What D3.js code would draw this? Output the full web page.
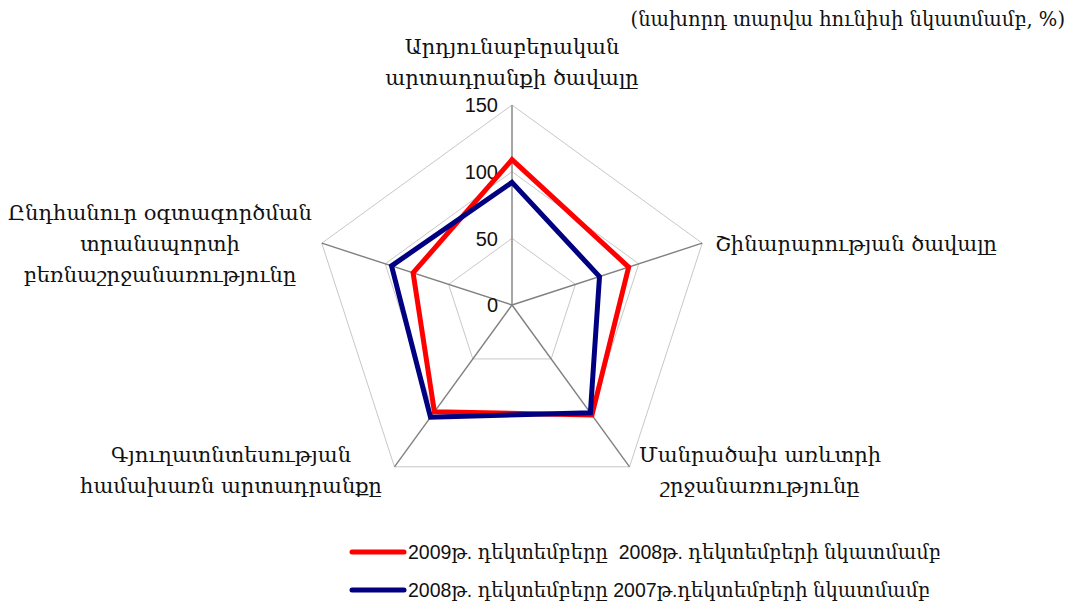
<!DOCTYPE html>
<meta charset="utf-8">
<script src="https://d3js.org/d3.v7.min.js"></script>
<style>
  body { margin: 0; background: #fff; }
</style>
<div id="chart"></div>
<script>

// axes of the radar, clockwise from the top
var categories = [
  ["Արդյունաբերական", "արտադրանքի ծավալը"],
  ["Շինարարության ծավալը"],
  ["Մանրածախ առևտրի", "շրջանառությունը"],
  ["Գյուղատնտեսության", "համախառն արտադրանքը"],
  ["Ընդհանուր օգտագործման", "տրանսպորտի", "բեռնաշրջանառությունը"]
];
var values2009 = [109, 92, 102, 99, 78];
var values2008 = [92, 69, 100, 104, 95];
var ticks = [0, 50, 100, 150];
var seriesNames = [
  "2009թ. դեկտեմբերը  2008թ. դեկտեմբերի նկատմամբ",
  "2008թ. դեկտեմբերը 2007թ.դեկտեմբերի նկատմամբ"
];
var note = "(նախորդ տարվա հունիսի նկատմամբ, %)";

var width = 1077, height = 609;
var cx = 512, cy = 305;

var svg = d3.select("#chart")
  .append("svg")
    .attr("width", width)
    .attr("height", height);

var g = svg.append("g")
    .attr("transform", "translate(" + cx + "," + cy + ")");

var r = d3.scaleLinear().domain([0, 150]).range([0, 200]);
var angle = function(i) { return i * 2 * Math.PI / categories.length; };
var px = function(i, v) { return r(v) * Math.sin(angle(i)); };
var py = function(i, v) { return -r(v) * Math.cos(angle(i)); };

// grid rings
ticks.slice(1).forEach(function(t) {
  g.append("path")
    .attr("d", d3.lineRadial()
      .angle(function(d, i) { return angle(i); })
      .radius(function() { return r(t); })
      .curve(d3.curveLinearClosed)(categories))
    .attr("fill", "none")
    .attr("stroke", "#c8c8c8")
    .attr("stroke-width", 1);
});

// spokes
g.selectAll(".spoke")
  .data(categories)
  .enter().append("line")
    .attr("class", "spoke")
    .attr("x1", 0).attr("y1", 0)
    .attr("x2", function(d, i) { return px(i, 150); })
    .attr("y2", function(d, i) { return py(i, 150); })
    .attr("stroke", "#808080")
    .attr("stroke-width", 1.4);

// tick labels
g.selectAll(".tick")
  .data(ticks)
  .enter().append("text")
    .attr("x", -14)
    .attr("y", function(d) { return -r(d); })
    .attr("dy", "0.36em")
    .attr("text-anchor", "end")
    .style("font-family", "Liberation Sans, Arial, sans-serif")
    .style("font-size", "20px")
    .attr("fill", "#111")
    .text(function(d) { return d; });

// series
var line = d3.lineRadial()
  .angle(function(d, i) { return angle(i); })
  .radius(function(d) { return r(d); })
  .curve(d3.curveLinearClosed);

[[values2009, "#ff0000"], [values2008, "#000080"]].forEach(function(s) {
  g.append("path")
    .attr("d", line(s[0]))
    .attr("fill", "none")
    .attr("stroke", s[1])
    .attr("stroke-width", 5)
    .attr("stroke-linejoin", "miter");
});

// category labels
var labelPos = [
  {x: 512, y: 47},
  {x: 856, y: 244},
  {x: 760, y: 455},
  {x: 231, y: 455},
  {x: 160, y: 213}
];
var labelFont = "DejaVu Serif, serif";
categories.forEach(function(lines, i) {
  var t = svg.append("text")
    .attr("text-anchor", "middle")
    .style("font-family", labelFont)
    .style("font-size", "21px")
    .attr("fill", "#111");
  lines.forEach(function(l, j) {
    t.append("tspan")
      .attr("x", labelPos[i].x)
      .attr("y", labelPos[i].y + j * 31)
      .attr("dy", "0.35em")
      .text(l);
  });
});

// note in the top right corner
svg.append("text")
  .attr("x", 1065)
  .attr("y", 19)
  .attr("dy", "0.35em")
  .attr("text-anchor", "end")
  .style("font-family", labelFont)
  .style("font-size", "19.5px")
  .attr("fill", "#111")
  .text(note);

// legend
var legend = svg.append("g");
[["#ff0000", 552], ["#000080", 590]].forEach(function(c, i) {
  legend.append("line")
    .attr("x1", 352).attr("x2", 404)
    .attr("y1", c[1]).attr("y2", c[1])
    .attr("stroke", c[0])
    .attr("stroke-width", 5)
    .attr("stroke-linecap", "round");
  legend.append("text")
    .attr("x", 408)
    .attr("y", c[1])
    .attr("dy", "0.35em")
    .style("font-family", "Liberation Sans, DejaVu Serif, sans-serif")
    .style("font-size", "19.5px")
    .style("white-space", "pre")
    .attr("fill", "#111")
    .text(seriesNames[i]);
});

</script>
